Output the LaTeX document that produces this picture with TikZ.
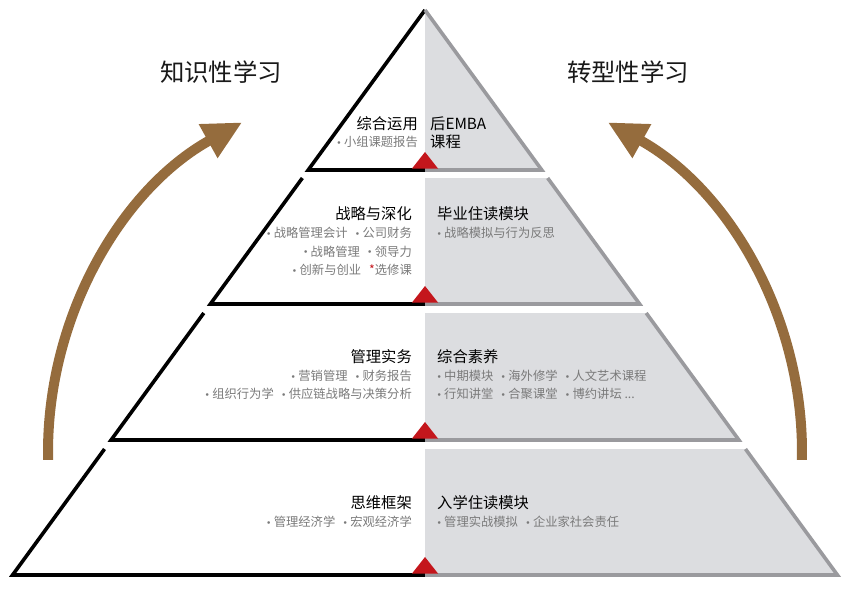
\documentclass[tikz,border=0pt]{standalone}
\usepackage{fontspec}
\setmainfont{Noto Sans CJK SC}
\usepackage{xcolor}
\usetikzlibrary{arrows.meta}

\definecolor{halfgray}{HTML}{DCDDE0}
\definecolor{edgegray}{HTML}{9A9A9E}
\definecolor{markred}{HTML}{C4161C}
\definecolor{arcbrown}{HTML}{956C3D}
\definecolor{itemgray}{HTML}{7A7A7A}

\newcommand{\bul}{\makebox[4pt]{\raisebox{2.2pt}{$\scriptscriptstyle\bullet$}}\hspace{3pt}}
\newcommand{\itemgap}{\hspace{8pt}}

\tikzset{
	edge/.style={line width=3.6pt, line join=miter},
	growarc/.style={arcbrown, line width=10pt, -{Triangle[length=39pt, width=36pt]}},
	sidehead/.style={font=\fontsize{24.4}{24.4}\selectfont, text=black!90, inner sep=0pt},
	lefttitle/.style={anchor=base east, font=\fontsize{15.3}{15.3}\selectfont, text=black, inner sep=0pt},
	righttitle/.style={anchor=base west, font=\fontsize{15.3}{15.3}\selectfont, text=black, inner sep=0pt},
	leftitem/.style={anchor=base east, font=\fontsize{12.3}{12.3}\selectfont, text=itemgray, inner sep=0pt},
	rightitem/.style={anchor=base west, font=\fontsize{12.3}{12.3}\selectfont, text=itemgray, inner sep=0pt},
}

\begin{document}
\begin{tikzpicture}[x=1pt, y=-1pt]
			
			\useasboundingbox (0,0) rectangle (850,603);
			
			\coordinate (apex) at (425,10);
			\coordinate (centre) at (425,452);
			
			% tiers: top/bottom, half width grows 0.73 per unit
			\foreach \t/\b in {10/170, 178/304, 313/440, 449/575}{
				\pgfmathsetmacro{\wt}{0.73*(\t-10)}
				\pgfmathsetmacro{\wb}{0.73*(\b-10)}
				\fill[halfgray] (425,\t) -- ({425+\wt},\t) -- ({425+\wb},\b) -- (425,\b) -- cycle;
				\draw[edge] (425,\b) -- ({425-\wb},\b) -- ({425-\wt},\t);
				\draw[edge, edgegray] (425,\b) -- ({425+\wb},\b) -- ({425+\wt},\t);
				\fill[markred] (412,{\b-1.5}) -- (438,{\b-1.5}) -- (425,{\b-18}) -- cycle;
			}
			
			\draw[growarc] (centre) ++(178.8:377) arc[start angle=178.8, end angle=241, radius=377];
			\draw[growarc] (centre) ++(1.2:377) arc[start angle=1.2, end angle=-61, radius=377];
			
			\node[sidehead] (know) at (221,72) {知识性学习};
			\node[sidehead] (trans) at (628,72) {转型性学习};
			
			\node[lefttitle] (t1l) at (418,129) {综合运用};
			\node[leftitem] (t1la) at (418,146.5) {\bul 小组课题报告};
			\node[righttitle] (t1r) at (430,129) {后EMBA};
			\node[righttitle] (t1rb) at (430,147.5) {课程};
			
			\node[lefttitle] (t2l) at (412,219) {战略与深化};
			\node[leftitem] (t2la) at (412,237.5) {\bul 战略管理会计\itemgap\bul 公司财务};
			\node[leftitem] (t2lb) at (412,256) {\bul 战略管理\itemgap\bul 领导力};
			\node[leftitem] (t2lc) at (412,274.5) {\bul 创新与创业\itemgap{\color{markred}*}选修课};
			\node[righttitle] (t2r) at (437,219) {毕业住读模块};
			\node[rightitem] (t2ra) at (437,237.5) {\bul 战略模拟与行为反思};
			
			\node[lefttitle] (t3l) at (412,362) {管理实务};
			\node[leftitem] (t3la) at (412,380.5) {\bul 营销管理\itemgap\bul 财务报告};
			\node[leftitem] (t3lb) at (412,398.5) {\bul 组织行为学\itemgap\bul 供应链战略与决策分析};
			\node[righttitle] (t3r) at (437,362) {综合素养};
			\node[rightitem] (t3ra) at (437,380.5) {\bul 中期模块\itemgap\bul 海外修学\itemgap\bul 人文艺术课程};
			\node[rightitem] (t3rb) at (437,398.5) {\bul 行知讲堂\itemgap\bul 合聚课堂\itemgap\bul 博约讲坛 ...};
			
			\node[lefttitle] (t4l) at (412,508) {思维框架};
			\node[leftitem] (t4la) at (412,526.5) {\bul 管理经济学\itemgap\bul 宏观经济学};
			\node[righttitle] (t4r) at (437,508) {入学住读模块};
			\node[rightitem] (t4ra) at (437,526.5) {\bul 管理实战模拟\itemgap\bul 企业家社会责任};
			
		\end{tikzpicture}
\end{document}
